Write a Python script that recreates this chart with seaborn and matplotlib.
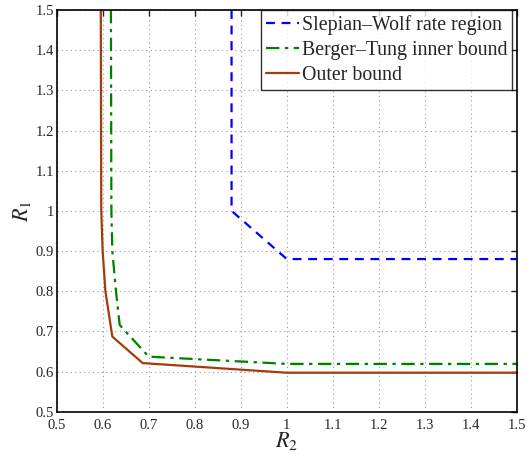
import matplotlib
matplotlib.use("Agg")
import matplotlib.pyplot as plt
import seaborn as sns
import pandas as pd

# Data (R2, R1)
sw_r2 = [0.88, 0.88, 1.0, 1.5]
sw_r1 = [1.5, 1.0, 0.88, 0.88]
bt_r2 = [0.618, 0.619, 0.621, 0.629, 0.637, 0.70, 1.0, 1.5]
bt_r1 = [1.5, 1.0, 0.9, 0.8, 0.716, 0.637, 0.619, 0.619]
ob_r2 = [0.596, 0.597, 0.600, 0.606, 0.621, 0.687, 1.0, 1.5]
ob_r1 = [1.5, 1.0, 0.9, 0.8, 0.687, 0.621, 0.597, 0.597]
labels = ["Slepian\u2013Wolf rate region", "Berger\u2013Tung inner bound", "Outer bound"]
ticks = [0.5, 0.6, 0.7, 0.8, 0.9, 1.0, 1.1, 1.2, 1.3, 1.4, 1.5]
tick_labels = ["0.5", "0.6", "0.7", "0.8", "0.9", "1", "1.1", "1.2", "1.3", "1.4", "1.5"]

sns.set_style("white")
plt.rcParams["font.family"] = ["Liberation Serif", "DejaVu Serif"]
plt.rcParams["mathtext.fontset"] = "stix"

fig = plt.figure(figsize=(5.31, 4.55), dpi=100)
ax = fig.add_axes([0.1066, 0.0952, 0.8670, 0.8828])

styles = [
    dict(color="#0000ff", linestyle=(0, (4, 3))),
    dict(color="#008000", linestyle=(0, (6, 2.5, 1.5, 2.5))),
    dict(color="#a33c0a", linestyle="-"),
]
for xs, ys, lab, st in zip([sw_r2, bt_r2, ob_r2], [sw_r1, bt_r1, ob_r1], labels, styles):
    df = pd.DataFrame({"R2": xs, "R1": ys})
    sns.lineplot(data=df, x="R2", y="R1", sort=False, estimator=None, ax=ax,
                 label=lab, linewidth=1.6, **st)

ax.set_xlim(0.5, 1.5)
ax.set_ylim(0.5, 1.5)
ax.set_xticks(ticks)
ax.set_xticklabels(tick_labels)
ax.set_yticks(ticks)
ax.set_yticklabels(tick_labels)
ax.tick_params(direction="in", top=True, right=True, length=4, width=1, labelsize=10.5)
ax.tick_params(axis="x", pad=5)
ax.tick_params(axis="y", pad=2)
ax.grid(True, linestyle=(0, (1, 3)), color="#999999", linewidth=0.8)
for s in ax.spines.values():
    s.set_linewidth(1.2)
    s.set_color("black")
ax.set_xlabel("$R_2$", fontsize=16, labelpad=-1)
ax.set_ylabel("$R_1$", fontsize=16, labelpad=2)

leg = ax.legend(loc="upper right", bbox_to_anchor=(1 - 5 / 460, 1.0), fontsize=14.3,
                frameon=True, fancybox=False, borderaxespad=0.0, handlelength=1.65,
                handletextpad=0.15, borderpad=0.25, labelspacing=0.3)
leg.get_frame().set_edgecolor("black")
leg.get_frame().set_linewidth(1.0)

fig.savefig("out.png", dpi=100)
